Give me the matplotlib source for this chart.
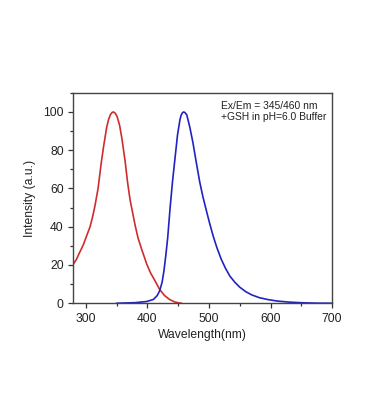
import matplotlib
matplotlib.use("Agg")
import matplotlib.pyplot as plt
from matplotlib.ticker import MultipleLocator

# Excitation spectrum (red)
ex_wl = [280, 285, 290, 296, 300, 307, 311, 315, 320, 325, 329, 334, 337, 340, 343, 345,
         348, 351, 355, 359, 364, 368, 372, 376, 380, 385, 391, 399, 405, 412, 420,
         428, 436, 444, 452, 455]
ex_int = [20.5, 23, 26.5, 30.5, 34, 40, 45, 51, 60, 73, 82, 92, 96, 98.6, 99.8, 100,
          99.3, 97.5, 93, 85.5, 74, 63, 54, 47.5, 41, 34, 28, 20.5, 16, 12, 7.2,
          4, 2, 0.7, 0.1, 0]

# Emission spectrum (blue)
em_wl = [350, 380, 399, 410, 416, 420, 424, 427, 430, 433, 437, 441, 445, 449, 453, 455,
         457, 459, 461, 464, 469, 474, 479, 485, 490, 495, 501, 507, 513, 520, 527,
         534, 542, 550, 560, 570, 582, 596, 612, 632, 655, 675, 700]
em_int = [0, 0.3, 0.9, 2, 4, 6.5, 11, 17, 25, 34, 50, 64, 76, 88, 96, 98.4,
          99.6, 100, 99.7, 98.5, 92, 84, 74.5, 63.5, 56, 49.5, 42, 35, 29, 23, 18.2,
          14.2, 11, 8.4, 6, 4.3, 2.9, 1.9, 1.1, 0.55, 0.2, 0.05, 0]

annotation = "Ex/Em = 345/460 nm\n+GSH in pH=6.0 Buffer"

plt.rcParams['font.family'] = ['Liberation Sans', 'DejaVu Sans']

fig = plt.figure(figsize=(3.69, 4.2), dpi=100)
ax = fig.add_axes([0.199, 0.278, 0.701, 0.501])

ax.plot(ex_wl, ex_int, color='#d02c2c', lw=1.2)
ax.plot(em_wl, em_int, color='#2222c4', lw=1.2)

ax.set_xlim(280, 700)
ax.set_ylim(0, 110)
ax.xaxis.set_major_locator(MultipleLocator(100))
ax.xaxis.set_minor_locator(MultipleLocator(50))
ax.yaxis.set_major_locator(MultipleLocator(20))
ax.yaxis.set_minor_locator(MultipleLocator(10))
ax.tick_params(which='major', direction='out', length=3.5, width=0.9, labelsize=8.7,
               colors='#333333', labelcolor='#222222')
ax.tick_params(which='minor', direction='out', length=2, width=0.9, colors='#333333')
ax.set_xticks([300, 400, 500, 600, 700])
for s in ax.spines.values():
    s.set_linewidth(1.0)
    s.set_color('#444444')

ax.set_xlabel('Wavelength(nm)', fontsize=8.7, color='#222222', labelpad=3)
ax.set_ylabel('Intensity (a.u.)', fontsize=8.7, color='#222222', labelpad=5)

ax.text(0.57, 0.96, annotation, transform=ax.transAxes, ha='left', va='top',
        fontsize=7.4, color='#222222', linespacing=1.15)

fig.savefig('out.png', dpi=100)
